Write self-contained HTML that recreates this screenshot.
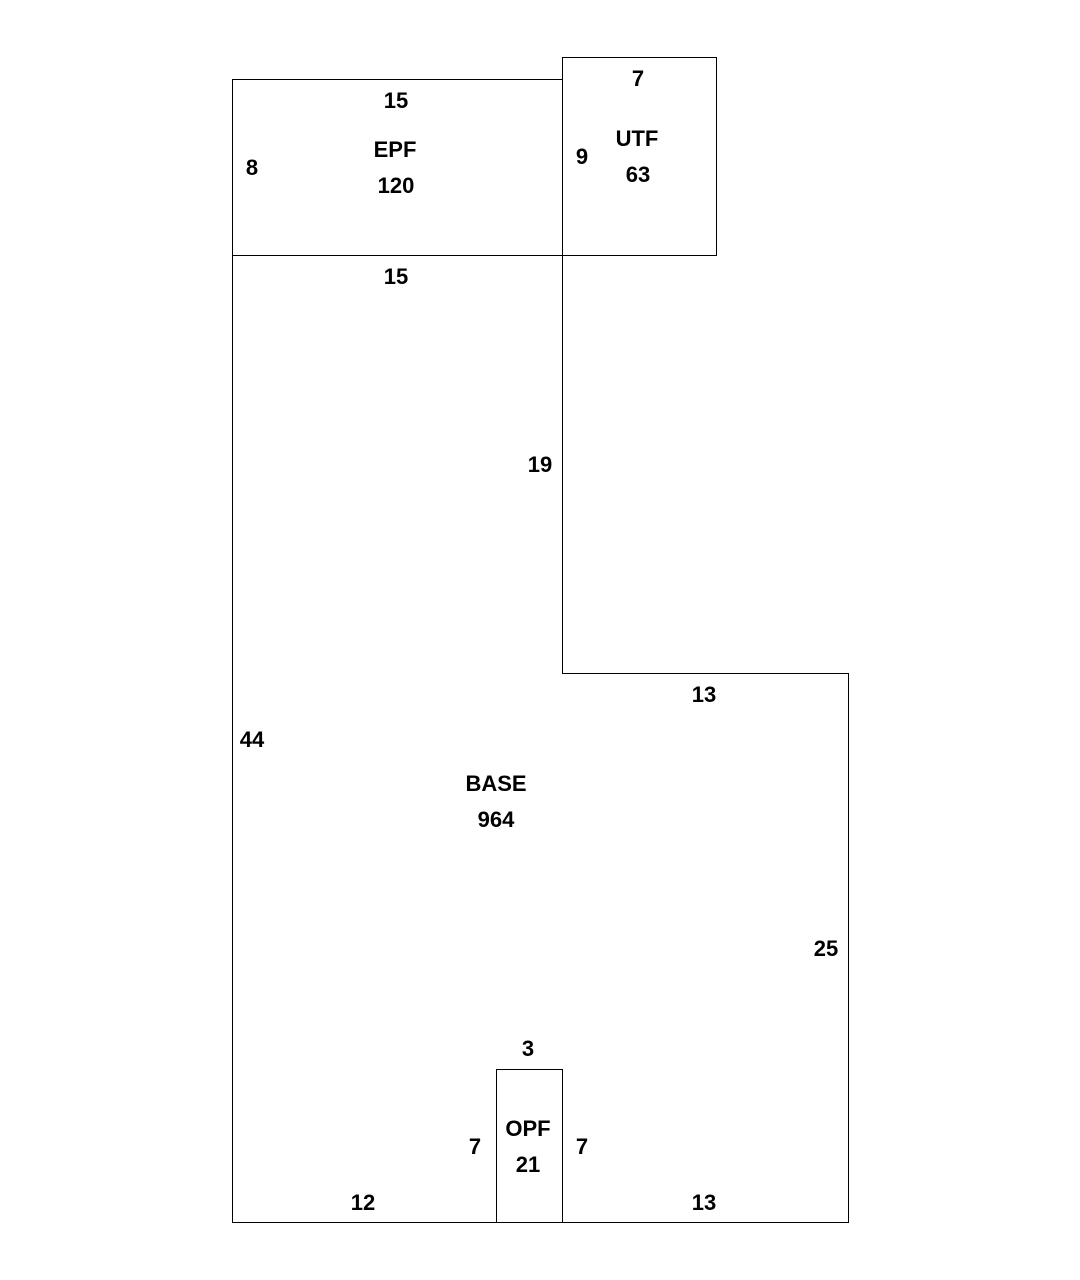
<!DOCTYPE html>
<html><head><style>body{margin:0;background:#fff}svg{display:block}</style></head><body>
<svg width="1080" height="1280" xmlns="http://www.w3.org/2000/svg">
<g fill="none" stroke="#000" stroke-width="1">
<rect x="232.5" y="79.5" width="330" height="176"/>
<rect x="562.5" y="57.5" width="154" height="198"/>
<polyline points="232.5,255.5 232.5,1222.5 848.5,1222.5 848.5,673.5 562.5,673.5 562.5,255.5"/>
<rect x="496.5" y="1069.5" width="66" height="153"/>
</g>
<g font-family="Liberation Sans, Arial, sans-serif" font-weight="bold" font-size="22" text-anchor="middle" fill="#000">
<text x="396" y="108">15</text>
<text x="395" y="157">EPF</text>
<text x="396" y="193">120</text>
<text x="252" y="175">8</text>
<text x="638" y="86">7</text>
<text x="637" y="146">UTF</text>
<text x="638" y="182">63</text>
<text x="582" y="164">9</text>
<text x="396" y="284">15</text>
<text x="540" y="472">19</text>
<text x="704" y="702">13</text>
<text x="252" y="747">44</text>
<text x="496" y="791">BASE</text>
<text x="496" y="827">964</text>
<text x="826" y="956">25</text>
<text x="528" y="1056">3</text>
<text x="528" y="1136">OPF</text>
<text x="528" y="1172">21</text>
<text x="475" y="1154">7</text>
<text x="582" y="1154">7</text>
<text x="363" y="1210">12</text>
<text x="704" y="1210">13</text>
</g>
</svg>
</body></html>
